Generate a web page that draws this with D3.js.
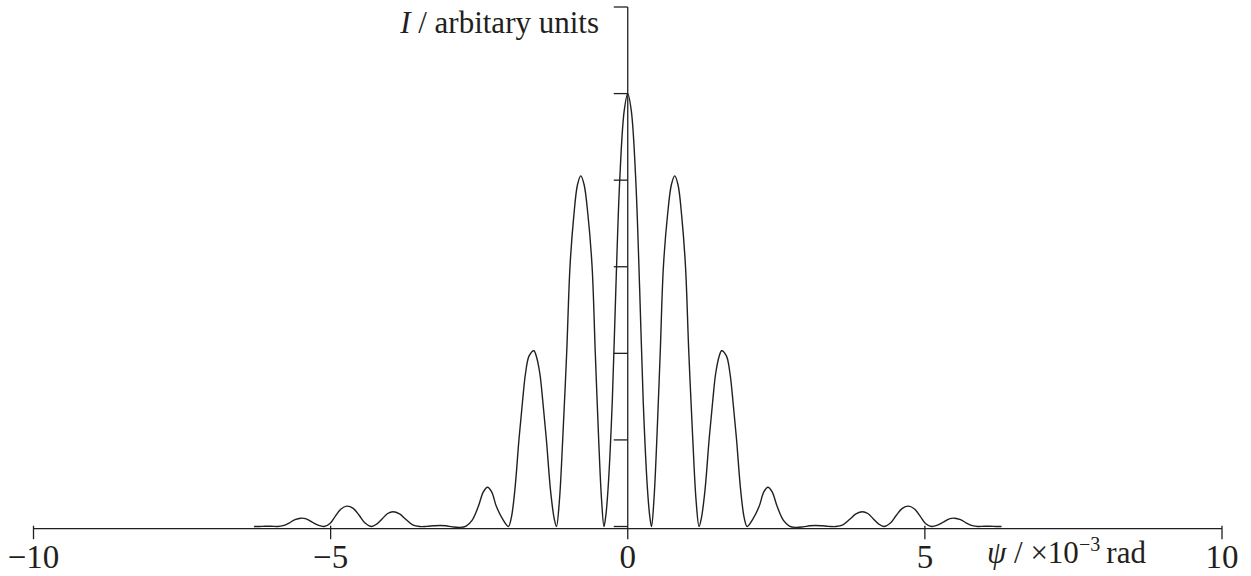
<!DOCTYPE html>
<html>
<head>
<meta charset="utf-8">
<script src="https://cdn.jsdelivr.net/npm/d3@7"></script>
<style>
  body { margin: 0; background: #fff; }
  svg { display: block; }
</style>
</head>
<body>
<svg id="chart" width="1251" height="576"></svg>
<script>
/* diffraction pattern, intensity vs angle psi (x10^-3 rad) */
var psi = [
  -6.29, -6.20, -6.10, -6.00, -5.89, -5.80, -5.70, -5.60, -5.50, -5.41,
  -5.31, -5.21, -5.11, -5.01, -4.92, -4.83, -4.73, -4.62, -4.52, -4.42,
  -4.31, -4.22, -4.13, -4.04, -3.95, -3.84, -3.73, -3.62, -3.50, -3.38,
  -3.27, -3.16, -3.06, -2.95, -2.82, -2.72, -2.62, -2.515, -2.43, -2.36,
  -2.29, -2.21, -2.10, -2.01, -1.96, -1.90, -1.83, -1.77, -1.72, -1.66,
  -1.58, -1.54, -1.48, -1.43, -1.37, -1.30, -1.24, -1.20, -1.15, -1.095,
  -1.028, -0.972, -0.91, -0.845, -0.79, -0.735, -0.67, -0.60, -0.546, -0.489,
  -0.44, -0.40, -0.37, -0.33, -0.26, -0.20, -0.135, -0.06, 0.00, 0.06,
  0.135, 0.20, 0.26, 0.33, 0.37, 0.40, 0.44, 0.489, 0.546, 0.60,
  0.67, 0.735, 0.79, 0.845, 0.91, 0.972, 1.028, 1.095, 1.15, 1.20,
  1.24, 1.30, 1.37, 1.43, 1.48, 1.54, 1.58, 1.66, 1.72, 1.77,
  1.83, 1.90, 1.96, 2.01, 2.10, 2.21, 2.29, 2.36, 2.43, 2.515,
  2.62, 2.72, 2.82, 2.95, 3.06, 3.16, 3.27, 3.38, 3.50, 3.62,
  3.73, 3.84, 3.95, 4.04, 4.13, 4.22, 4.31, 4.42, 4.52, 4.62,
  4.73, 4.83, 4.92, 5.01, 5.11, 5.21, 5.31, 5.41, 5.50, 5.60,
  5.70, 5.80, 5.89, 6.00, 6.10, 6.20, 6.29
];
var intensity = [
  0, 0, 0.003, 0.003, 0, 0.01, 0.04, 0.08, 0.096, 0.088,
  0.05, 0.015, 0, 0.035, 0.12, 0.20, 0.235, 0.21, 0.13, 0.04,
  0, 0.03, 0.09, 0.15, 0.17, 0.145, 0.08, 0.02, 0, 0.002,
  0.008, 0.012, 0.008, -0.004, -0.01, 0.005, 0.07, 0.23, 0.40, 0.454,
  0.40, 0.23, 0.08, 0, 0.10, 0.42, 1.01, 1.45, 1.77, 1.97,
  2.03, 1.97, 1.77, 1.45, 1.01, 0.42, 0.10, 0, 0.30, 1.00,
  2.00, 3.00, 3.57, 3.95, 4.05, 3.95, 3.60, 3.00, 2.00, 1.00,
  0.30, 0, 0.12, 0.45, 1.45, 2.75, 4.00, 4.80, 5.00, 4.80,
  4.00, 2.75, 1.45, 0.45, 0.12, 0, 0.30, 1.00, 2.00, 3.00,
  3.60, 3.95, 4.05, 3.95, 3.57, 3.00, 2.00, 1.00, 0.30, 0,
  0.10, 0.42, 1.01, 1.45, 1.77, 1.97, 2.03, 1.97, 1.77, 1.45,
  1.01, 0.42, 0.10, 0, 0.08, 0.23, 0.40, 0.454, 0.40, 0.23,
  0.07, 0.005, -0.01, -0.004, 0.008, 0.012, 0.008, 0.002, 0, 0.02,
  0.08, 0.145, 0.17, 0.15, 0.09, 0.03, 0, 0.04, 0.13, 0.21,
  0.235, 0.20, 0.12, 0.035, 0, 0.015, 0.05, 0.088, 0.096, 0.08,
  0.04, 0.01, 0, 0.003, 0.003, 0, 0
];
var xTicks = [-10, -5, 0, 5, 10];
var xTickLabels = ["\u221210", "\u22125", "0", "5", "10"];
var yTicks = [0, 1, 2, 3, 4, 5, 6];

var svg = d3.select("#chart");
var ink = "#231f20";
var serif = "'Liberation Serif'";

var x = d3.scaleLinear().domain([-10, 10]).range([33.5, 1222]);
var y = d3.scaleLinear().domain([0, 6]).range([526.5, 7]);
var axisY = 528.7;

// x axis line with small crossing ticks
svg.append("line")
  .attr("x1", x(-10)).attr("x2", x(10))
  .attr("y1", axisY).attr("y2", axisY)
  .attr("stroke", ink).attr("stroke-width", 1.3);

svg.selectAll("line.xt").data(xTicks.filter(function(d){ return d !== 0; }))
  .enter().append("line")
  .attr("class", "xt")
  .attr("x1", function(d){ return x(d); })
  .attr("x2", function(d){ return x(d); })
  .attr("y1", axisY - 3).attr("y2", axisY + 10.5)
  .attr("stroke", ink).attr("stroke-width", 1.3);

svg.selectAll("text.xl").data(xTicks)
  .enter().append("text")
  .attr("class", "xl")
  .attr("x", function(d){ return x(d); })
  .attr("y", 567.5)
  .attr("text-anchor", "middle")
  .attr("font-size", 33)
  .attr("fill", ink)
  .style("font-family", serif)
  .text(function(d, i){ return xTickLabels[i]; });

// y axis: vertical line through 0, ticks to the left
svg.append("line")
  .attr("x1", x(0)).attr("x2", x(0))
  .attr("y1", y(6)).attr("y2", axisY + 10.5)
  .attr("stroke", ink).attr("stroke-width", 1.3);

svg.selectAll("line.yt").data(yTicks)
  .enter().append("line")
  .attr("class", "yt")
  .attr("x1", x(0) - 14).attr("x2", x(0))
  .attr("y1", function(d){ return y(d); })
  .attr("y2", function(d){ return y(d); })
  .attr("stroke", ink).attr("stroke-width", 1.3);

// curve
var line = d3.line()
  .x(function(d){ return x(d[0]); })
  .y(function(d){ return y(d[1]); })
  .curve(d3.curveCatmullRom.alpha(0.5));

svg.append("path")
  .datum(d3.zip(psi, intensity))
  .attr("d", line)
  .attr("fill", "none")
  .attr("stroke", ink)
  .attr("stroke-width", 1.4);

// axis titles
var yt = svg.append("text")
  .attr("x", 599).attr("y", 33)
  .attr("text-anchor", "end")
  .attr("font-size", 31)
  .attr("fill", ink)
  .style("font-family", serif);
yt.append("tspan").attr("font-style", "italic").text("I");
yt.append("tspan").text(" / arbitary units");

var xt = svg.append("text")
  .attr("x", 987).attr("y", 563)
  .attr("font-size", 31)
  .attr("fill", ink)
  .style("font-family", serif);
xt.append("tspan").attr("font-style", "italic").text("\u03c8");
xt.append("tspan").text(" / \u00d710");
xt.append("tspan").attr("font-size", 20).attr("dy", -12).text("\u22123");
xt.append("tspan").attr("dy", 12).text("\u2009rad");
</script>
</body>
</html>
